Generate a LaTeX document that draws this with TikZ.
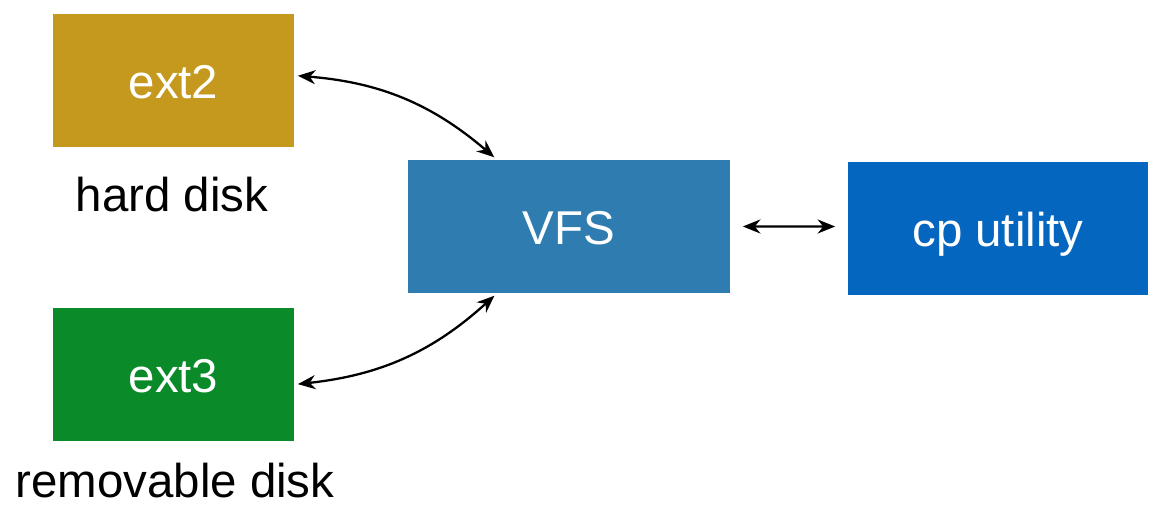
\documentclass[tikz,border=0pt]{standalone}
\usepackage{fontspec}
\setmainfont{Liberation Sans}
\usetikzlibrary{arrows.meta}

\definecolor{extgold}{HTML}{C4991D}
\definecolor{extgreen}{HTML}{0B8A2A}
\definecolor{vfsblue}{HTML}{2F7DB0}
\definecolor{cpblue}{HTML}{0466BE}

\tikzset{
  fsbox/.style = {minimum height = 2.66cm, inner sep = 0pt, text = white,
                  text height = 20pt, text depth = 0pt,
                  font = \fontsize{27}{31}\selectfont},
  disklabel/.style = {font = \fontsize{27}{31}\selectfont},
  link/.style = {{Stealth[length=10pt,width=8pt]}-{Stealth[length=10pt,width=8pt]}, line width = 1.3pt, shorten <= 2pt, shorten >= 2pt}
}

\begin{document}
\begin{tikzpicture}
  \useasboundingbox (0, 0) rectangle (23.2, -10.14);

  \node[fsbox, fill = extgold, minimum width = 4.82cm] (E2) at (3.47, -1.61) {ext2};
  \node[fsbox, fill = extgreen, minimum width = 4.82cm] (E3) at (3.47, -7.49) {ext3};
  \node[fsbox, fill = vfsblue, minimum width = 6.44cm] (VFS) at (11.38, -4.53) {VFS};
  \node[fsbox, fill = cpblue, minimum width = 6cm] (CP) at (19.96, -4.58) {cp utility};

  \node[disklabel] (HD) at (3.44, -3.9) {hard disk};
  \node[disklabel] (RD) at (3.5, -9.62) {removable disk};

  \draw[link]
  ([yshift=1mm]E2.east) to[bend left = 18] ([xshift=-1.44cm]VFS.north);
  \draw[link]
  ([yshift=-0.2cm]E3.east) to[bend right = 18] ([xshift=-1.44cm]VFS.south);
  \draw[link]
  ([xshift=0.18cm]VFS.east) -- ([xshift=-0.18cm, yshift=0.05cm]CP.west);

\end{tikzpicture}
\end{document}
